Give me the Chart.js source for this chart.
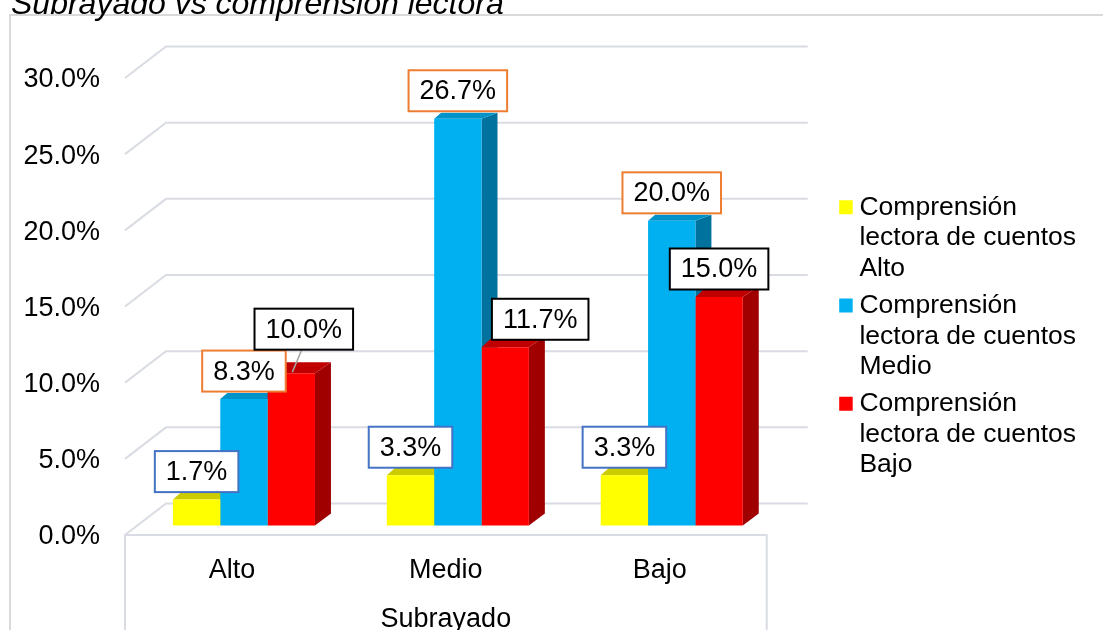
<!DOCTYPE html>
<html>
<head>
<meta charset="utf-8">
<script src="https://cdn.jsdelivr.net/npm/chart.js@4.4.1/dist/chart.umd.min.js"></script>
<style>
  html, body { margin: 0; padding: 0; background: #ffffff; }
  #wrap { width: 1103px; height: 630px; position: relative; }
</style>
</head>
<body>
<div id="wrap"><canvas id="chart" width="1103" height="630"></canvas></div>
<script>
// ---- data ----
const categories = ['Alto', 'Medio', 'Bajo'];
const seriesLabels = [
  ['Comprensión', 'lectora de cuentos', 'Alto'],
  ['Comprensión', 'lectora de cuentos', 'Medio'],
  ['Comprensión', 'lectora de cuentos', 'Bajo']
];
const lectoraAlto  = [1.7, 3.3, 3.3];
const lectoraMedio = [8.3, 26.7, 20.0];
const lectoraBajo  = [10.0, 11.7, 15.0];
const yTicks = [0, 5, 10, 15, 20, 25, 30];

// ---- styling ----
const FONT = "'Liberation Sans', Arial, sans-serif";
const frontColors = ['#FFFF00', '#00B0F0', '#FF0000'];
const topColors   = ['#CCCC00', '#0093C9', '#C00000'];
const sideColors  = ['#A3A300', '#00729E', '#A00000'];
const labelBorders = ['#4472C4', '#ED7D31', '#000000'];
const topDepth = [8, 6, 11];          // visible height of the column tops per series
const topLeftShift = [9, 7, 12];      // horizontal shift of the back-left corner of the tops
const WALL = { dx: 41, dy: -31.5 };   // back wall offset from the front plane
const BARS = { dx: 12, dy: -9.5 };    // column row offset from the front plane
const SIDE = { dx: 16, dy: -12 };     // column depth (right side face)
// label nudges keyed "series,category": [dx, dy]
const labelNudge = { '2,0': [12.5, -16], '2,1': [35, 0] };

const pct = v => v.toFixed(1) + '%';

const threeD = {
  id: 'threeD',
  beforeDraw(chart) {
    const { ctx, chartArea: a, scales: { y } } = chart;
    ctx.save();
    // outer frame
    ctx.strokeStyle = '#D9D9D9';
    ctx.lineWidth = 2;
    ctx.beginPath();
    ctx.moveTo(10, chart.height + 5);
    ctx.lineTo(10, 15);
    ctx.lineTo(chart.width + 5, 15);
    ctx.stroke();
    // chart title
    ctx.font = 'italic 32px ' + FONT;
    ctx.fillStyle = '#000000';
    ctx.textAlign = 'left';
    ctx.textBaseline = 'alphabetic';
    ctx.fillText('Subrayado vs comprensión lectora', 11, 14);
    // side wall + back wall gridlines
    ctx.strokeStyle = '#D9DCE3';
    ctx.lineWidth = 2;
    yTicks.forEach(v => {
      const py = y.getPixelForValue(v);
      ctx.beginPath();
      ctx.moveTo(a.left, py);
      ctx.lineTo(a.left + WALL.dx, py + WALL.dy);
      ctx.lineTo(a.right + WALL.dx, py + WALL.dy);
      ctx.stroke();
    });
    // floor front edge and category axis box
    ctx.beginPath();
    ctx.moveTo(a.left, chart.height + 5);
    ctx.lineTo(a.left, a.bottom);
    ctx.lineTo(a.right, a.bottom);
    ctx.lineTo(a.right, chart.height + 5);
    ctx.stroke();
    ctx.restore();
  },
  beforeDatasetsDraw(chart) {
    const { ctx } = chart;
    ctx.save();
    chart.data.datasets.forEach((ds, i) => {
      const meta = chart.getDatasetMeta(i);
      meta.data.forEach(bar => {
        const p = bar.getProps(['x', 'y', 'base', 'width'], true);
        const L = p.x - p.width / 2 + BARS.dx;
        const R = p.x + p.width / 2 + BARS.dx;
        const T = p.y + BARS.dy;
        const B = p.base + BARS.dy;
        const dT = topDepth[i];
        // right side face
        ctx.fillStyle = sideColors[i];
        ctx.beginPath();
        ctx.moveTo(R, T);
        ctx.lineTo(R + SIDE.dx, T - dT);
        ctx.lineTo(R + SIDE.dx, B + SIDE.dy);
        ctx.lineTo(R, B);
        ctx.closePath();
        ctx.fill();
        // top face
        ctx.fillStyle = topColors[i];
        ctx.beginPath();
        ctx.moveTo(L, T);
        ctx.lineTo(R, T);
        ctx.lineTo(R + SIDE.dx, T - dT);
        ctx.lineTo(L + topLeftShift[i], T - dT);
        ctx.closePath();
        ctx.fill();
      });
    });
    ctx.restore();
    // front faces are drawn by Chart.js in the column row plane
    ctx.save();
    ctx.translate(BARS.dx, BARS.dy);
  },
  afterDatasetsDraw(chart) {
    const { ctx } = chart;
    ctx.restore();
    ctx.save();
    ctx.font = '27px ' + FONT;
    ctx.textAlign = 'center';
    ctx.textBaseline = 'middle';
    chart.data.datasets.forEach((ds, i) => {
      const meta = chart.getDatasetMeta(i);
      meta.data.forEach((bar, j) => {
        const p = bar.getProps(['x', 'y'], true);
        const cx = p.x + BARS.dx;
        const T = p.y + BARS.dy;
        const nudge = labelNudge[i + ',' + j] || [0, 0];
        const text = pct(ds.data[j]);
        const w = ctx.measureText(text).width + 22;
        const h = 41;
        const bx = cx + nudge[0];
        const bottom = T - 7.5 + nudge[1];
        if (nudge[1] < -10) {
          ctx.strokeStyle = '#A6A6A6';
          ctx.lineWidth = 1.5;
          ctx.beginPath();
          ctx.moveTo(bx - 2, bottom);
          ctx.lineTo(cx + 1, T - 1);
          ctx.stroke();
        }
        ctx.fillStyle = '#FFFFFF';
        ctx.fillRect(bx - w / 2, bottom - h, w, h);
        ctx.strokeStyle = labelBorders[i];
        ctx.lineWidth = 2;
        ctx.strokeRect(bx - w / 2, bottom - h, w, h);
        ctx.fillStyle = '#000000';
        ctx.fillText(text, bx, bottom - h / 2 + 1);
      });
    });
    ctx.restore();
  }
};

Chart.defaults.font.family = FONT;
Chart.defaults.color = '#000000';

new Chart(document.getElementById('chart'), {
  type: 'bar',
  data: {
    labels: categories,
    datasets: [
      { label: seriesLabels[0], data: lectoraAlto,  backgroundColor: frontColors[0] },
      { label: seriesLabels[1], data: lectoraMedio, backgroundColor: frontColors[1] },
      { label: seriesLabels[2], data: lectoraBajo,  backgroundColor: frontColors[2] }
    ]
  },
  options: {
    responsive: false,
    animation: false,
    events: [],
    layout: { padding: { top: 78, right: 17, left: 0, bottom: 0 } },
    datasets: {
      bar: { categoryPercentage: 0.664, barPercentage: 1.0, borderWidth: 0, clip: false }
    },
    scales: {
      x: {
        type: 'category',
        grid: { display: false, drawTicks: false },
        border: { display: false },
        ticks: { font: { size: 27 }, color: '#000000', padding: 19.8 },
        title: {
          display: true, text: 'Subrayado', color: '#000000',
          font: { size: 27, lineHeight: 0.78 }, padding: 0
        },
        afterFit(scale) { scale.height = 95; }
      },
      y: {
        min: 0, max: 30,
        grid: { display: false, drawTicks: false },
        border: { display: false },
        ticks: { stepSize: 5, font: { size: 27 }, color: '#000000', padding: 25, labelOffset: 2, callback: v => pct(v) },
        afterFit(scale) { scale.width = 125; }
      },
      gap: {
        type: 'linear', position: 'right', display: true,
        grid: { display: false, drawTicks: false },
        border: { display: false },
        ticks: { display: false },
        afterFit(scale) { scale.width = 72.5; }
      }
    },
    plugins: {
      tooltip: { enabled: false },
      legend: {
        position: 'right',
        align: 'start',
        maxWidth: 400,
        title: { display: true, text: '', font: { size: 10, lineHeight: 1 }, padding: { top: 100, bottom: 0 } },
        labels: {
          usePointStyle: true,
          pointStyle: 'rect',
          boxWidth: 1,
          boxHeight: 14,
          padding: 6,
          color: '#000000',
          font: { size: 26.5, lineHeight: 1.16 }
        }
      }
    }
  },
  plugins: [threeD]
});
</script>
</body>
</html>
